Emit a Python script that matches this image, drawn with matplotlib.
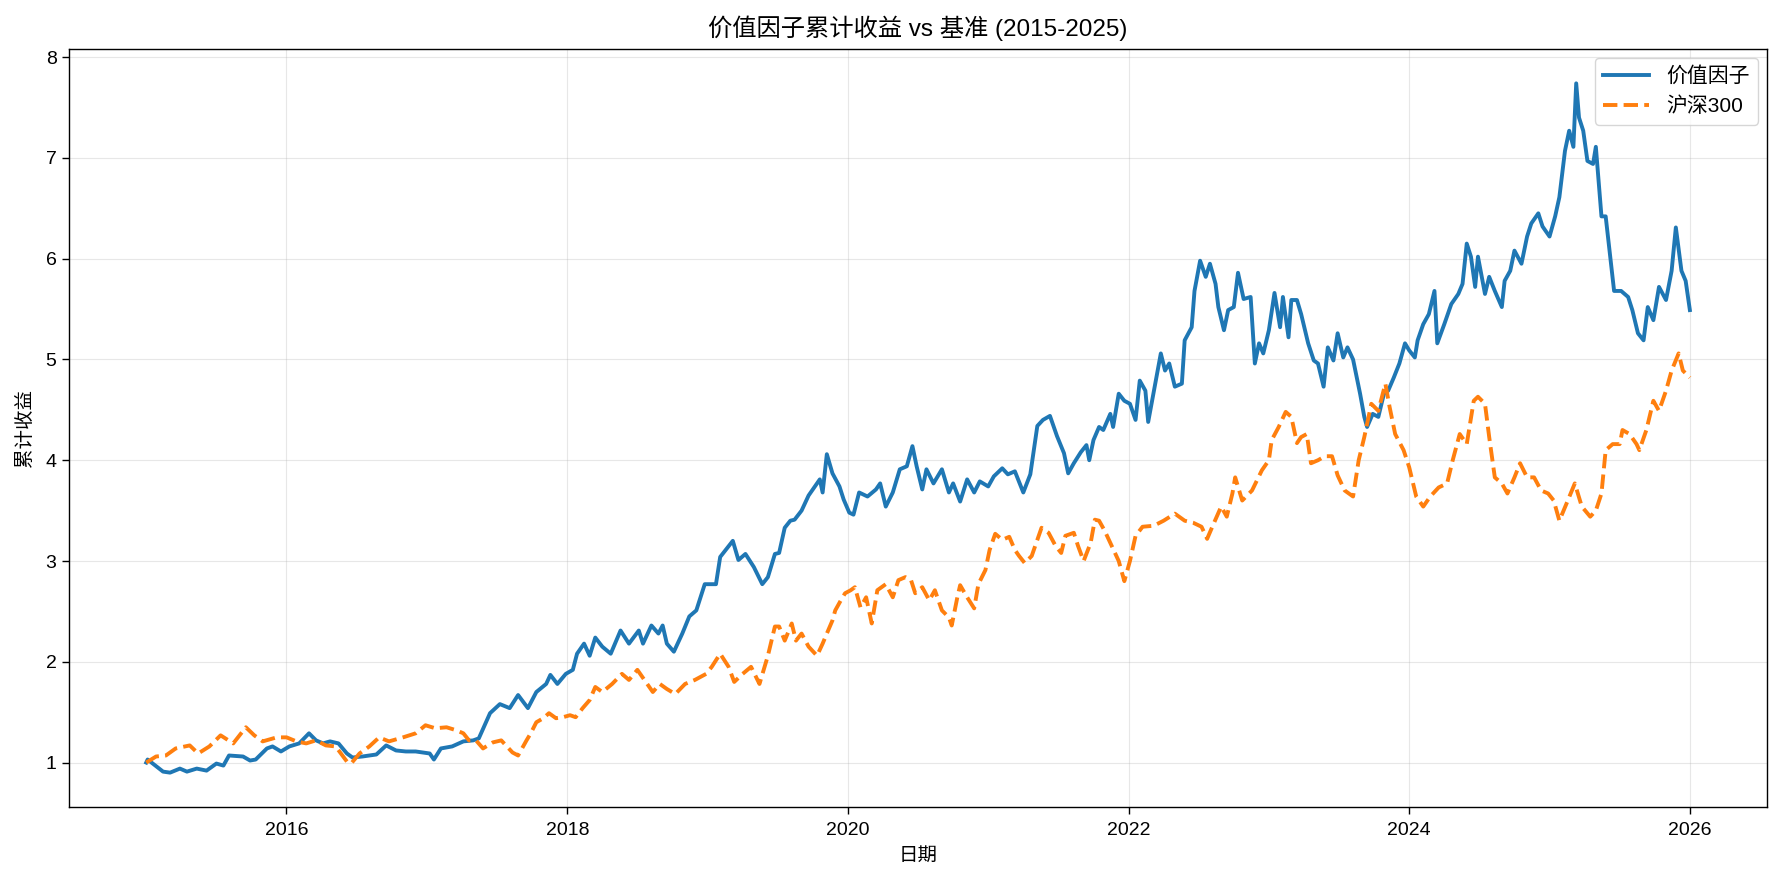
import numpy as np
import pandas as pd
import matplotlib
matplotlib.use('Agg')
import matplotlib.pyplot as plt
import matplotlib.dates as mdates

plt.rcParams['font.family'] = ['Liberation Sans', 'Noto Sans CJK SC']
plt.rcParams['axes.unicode_minus'] = False

# 价值因子 cumulative return (fractional year, value)
value_t = [2015.00, 2015.01, 2015.12, 2015.17, 2015.24, 2015.29, 2015.36, 2015.43, 2015.50, 2015.55,
           2015.59, 2015.69, 2015.74, 2015.78, 2015.86, 2015.90, 2015.96, 2016.02, 2016.09, 2016.16,
           2016.21, 2016.26, 2016.31, 2016.37, 2016.43, 2016.47, 2016.54, 2016.64, 2016.71, 2016.78,
           2016.85, 2016.92, 2017.02, 2017.05, 2017.10, 2017.18, 2017.26, 2017.33, 2017.37, 2017.45,
           2017.52, 2017.59, 2017.65, 2017.72, 2017.78, 2017.85, 2017.88, 2017.93, 2017.99, 2018.04,
           2018.07, 2018.12, 2018.16, 2018.20, 2018.25, 2018.31, 2018.38, 2018.44, 2018.51, 2018.54,
           2018.60, 2018.65, 2018.68, 2018.71, 2018.76, 2018.82, 2018.87, 2018.92, 2018.98, 2019.06,
           2019.09, 2019.18, 2019.22, 2019.27, 2019.33, 2019.39, 2019.43, 2019.48, 2019.51, 2019.55,
           2019.59, 2019.62, 2019.67, 2019.72, 2019.75, 2019.80, 2019.82, 2019.85, 2019.89, 2019.94,
           2019.97, 2020.01, 2020.04, 2020.08, 2020.14, 2020.20, 2020.23, 2020.27, 2020.32, 2020.37,
           2020.42, 2020.46, 2020.49, 2020.53, 2020.56, 2020.61, 2020.67, 2020.72, 2020.75, 2020.80,
           2020.85, 2020.90, 2020.94, 2021.00, 2021.04, 2021.10, 2021.14, 2021.19, 2021.25, 2021.30,
           2021.35, 2021.39, 2021.44, 2021.49, 2021.54, 2021.57, 2021.61, 2021.66, 2021.70, 2021.72,
           2021.75, 2021.79, 2021.82, 2021.87, 2021.89, 2021.93, 2021.97, 2022.01, 2022.05, 2022.08,
           2022.12, 2022.14, 2022.19, 2022.23, 2022.26, 2022.29, 2022.33, 2022.38, 2022.40, 2022.45,
           2022.47, 2022.51, 2022.55, 2022.58, 2022.62, 2022.64, 2022.68, 2022.71, 2022.75, 2022.78,
           2022.82, 2022.87, 2022.90, 2022.93, 2022.96, 2023.00, 2023.04, 2023.08, 2023.10, 2023.14,
           2023.16, 2023.20, 2023.23, 2023.28, 2023.32, 2023.35, 2023.39, 2023.42, 2023.46, 2023.49,
           2023.53, 2023.56, 2023.60, 2023.65, 2023.68, 2023.70, 2023.74, 2023.78, 2023.82, 2023.85,
           2023.89, 2023.93, 2023.97, 2024.00, 2024.04, 2024.06, 2024.10, 2024.14, 2024.18, 2024.20,
           2024.25, 2024.30, 2024.35, 2024.38, 2024.41, 2024.44, 2024.47, 2024.49, 2024.54, 2024.57,
           2024.61, 2024.66, 2024.68, 2024.72, 2024.75, 2024.80, 2024.84, 2024.87, 2024.92, 2024.95,
           2025.00, 2025.04, 2025.07, 2025.11, 2025.14, 2025.17, 2025.19, 2025.21, 2025.24, 2025.27,
           2025.31, 2025.33, 2025.37, 2025.40, 2025.43, 2025.46, 2025.51, 2025.56, 2025.59, 2025.63,
           2025.67, 2025.70, 2025.74, 2025.78, 2025.83, 2025.87, 2025.90, 2025.94, 2025.97, 2026.00]
value_v = [1.00, 1.03, 0.91, 0.90, 0.94, 0.91, 0.94, 0.92, 0.99, 0.97,
           1.07, 1.06, 1.02, 1.03, 1.14, 1.16, 1.11, 1.16, 1.19, 1.29,
           1.22, 1.19, 1.21, 1.19, 1.09, 1.05, 1.06, 1.08, 1.17, 1.12,
           1.11, 1.11, 1.09, 1.03, 1.14, 1.16, 1.21, 1.22, 1.24, 1.49,
           1.58, 1.54, 1.67, 1.54, 1.70, 1.78, 1.87, 1.78, 1.88, 1.92,
           2.08, 2.18, 2.06, 2.24, 2.15, 2.08, 2.31, 2.18, 2.31, 2.18,
           2.36, 2.28, 2.36, 2.18, 2.10, 2.28, 2.45, 2.51, 2.77, 2.77,
           3.04, 3.20, 3.01, 3.07, 2.94, 2.77, 2.84, 3.07, 3.08, 3.33,
           3.40, 3.41, 3.50, 3.65, 3.71, 3.81, 3.68, 4.06, 3.87, 3.74,
           3.61, 3.48, 3.46, 3.68, 3.64, 3.71, 3.77, 3.54, 3.68, 3.91,
           3.94, 4.14, 3.94, 3.71, 3.91, 3.77, 3.91, 3.68, 3.77, 3.59,
           3.81, 3.68, 3.79, 3.74, 3.84, 3.92, 3.86, 3.89, 3.68, 3.86,
           4.34, 4.40, 4.44, 4.24, 4.07, 3.87, 3.97, 4.08, 4.15, 4.00,
           4.20, 4.33, 4.30, 4.46, 4.33, 4.66, 4.59, 4.56, 4.40, 4.79,
           4.69, 4.38, 4.76, 5.06, 4.89, 4.96, 4.73, 4.76, 5.19, 5.32,
           5.68, 5.98, 5.82, 5.95, 5.75, 5.52, 5.29, 5.49, 5.52, 5.86,
           5.60, 5.62, 4.96, 5.16, 5.06, 5.29, 5.66, 5.32, 5.62, 5.22,
           5.59, 5.59, 5.45, 5.16, 4.99, 4.96, 4.73, 5.12, 4.99, 5.26,
           5.02, 5.12, 5.00, 4.66, 4.43, 4.33, 4.46, 4.43, 4.66, 4.69,
           4.82, 4.96, 5.16, 5.09, 5.02, 5.19, 5.35, 5.45, 5.68, 5.16,
           5.35, 5.55, 5.65, 5.75, 6.15, 6.02, 5.72, 6.02, 5.65, 5.82,
           5.68, 5.52, 5.78, 5.88, 6.08, 5.95, 6.22, 6.35, 6.45, 6.32,
           6.22, 6.42, 6.61, 7.07, 7.27, 7.11, 7.74, 7.40, 7.27, 6.97,
           6.94, 7.11, 6.42, 6.42, 6.05, 5.68, 5.68, 5.62, 5.49, 5.26,
           5.19, 5.52, 5.39, 5.72, 5.59, 5.88, 6.31, 5.88, 5.78, 5.49]

# 沪深300 cumulative return
hs300_t = [2015.00, 2015.07, 2015.14, 2015.21, 2015.31, 2015.37, 2015.45, 2015.53, 2015.62, 2015.71,
           2015.77, 2015.83, 2015.93, 2016.00, 2016.07, 2016.14, 2016.21, 2016.28, 2016.35, 2016.43,
           2016.46, 2016.52, 2016.59, 2016.66, 2016.73, 2016.83, 2016.92, 2016.99, 2017.06, 2017.14,
           2017.21, 2017.26, 2017.30, 2017.35, 2017.40, 2017.47, 2017.53, 2017.57, 2017.61, 2017.65,
           2017.67, 2017.71, 2017.74, 2017.78, 2017.83, 2017.87, 2017.92, 2017.97, 2018.02, 2018.06,
           2018.11, 2018.16, 2018.20, 2018.25, 2018.32, 2018.39, 2018.44, 2018.50, 2018.55, 2018.61,
           2018.66, 2018.71, 2018.77, 2018.84, 2018.91, 2018.99, 2019.03, 2019.09, 2019.15, 2019.19,
           2019.25, 2019.31, 2019.37, 2019.43, 2019.48, 2019.51, 2019.55, 2019.60, 2019.63, 2019.67,
           2019.72, 2019.78, 2019.82, 2019.85, 2019.89, 2019.91, 2019.95, 2019.98, 2020.02, 2020.05,
           2020.09, 2020.13, 2020.17, 2020.21, 2020.27, 2020.32, 2020.36, 2020.41, 2020.45, 2020.48,
           2020.53, 2020.58, 2020.62, 2020.67, 2020.72, 2020.74, 2020.78, 2020.80, 2020.85, 2020.90,
           2020.93, 2020.98, 2021.01, 2021.05, 2021.10, 2021.15, 2021.19, 2021.22, 2021.26, 2021.31,
           2021.38, 2021.43, 2021.48, 2021.52, 2021.55, 2021.61, 2021.64, 2021.68, 2021.73, 2021.76,
           2021.79, 2021.83, 2021.88, 2021.93, 2021.97, 2022.01, 2022.05, 2022.10, 2022.18, 2022.25,
           2022.33, 2022.40, 2022.46, 2022.52, 2022.56, 2022.60, 2022.66, 2022.70, 2022.74, 2022.76,
           2022.81, 2022.88, 2022.95, 2023.00, 2023.02, 2023.07, 2023.12, 2023.16, 2023.20, 2023.23,
           2023.27, 2023.30, 2023.35, 2023.40, 2023.45, 2023.49, 2023.54, 2023.57, 2023.60, 2023.64,
           2023.68, 2023.73, 2023.78, 2023.83, 2023.86, 2023.90, 2023.96, 2024.00, 2024.05, 2024.10,
           2024.15, 2024.21, 2024.27, 2024.31, 2024.36, 2024.41, 2024.46, 2024.49, 2024.54, 2024.57,
           2024.61, 2024.66, 2024.70, 2024.75, 2024.79, 2024.84, 2024.89, 2024.94, 2024.99, 2025.03,
           2025.07, 2025.13, 2025.18, 2025.23, 2025.29, 2025.33, 2025.37, 2025.40, 2025.45, 2025.50,
           2025.52, 2025.57, 2025.62, 2025.64, 2025.69, 2025.74, 2025.78, 2025.83, 2025.87, 2025.92,
           2025.95, 2026.00]
hs300_v = [1.00, 1.06, 1.07, 1.14, 1.17, 1.09, 1.16, 1.27, 1.19, 1.35,
           1.27, 1.21, 1.25, 1.25, 1.21, 1.19, 1.22, 1.17, 1.16, 1.01,
           0.99, 1.09, 1.16, 1.25, 1.21, 1.25, 1.29, 1.37, 1.34, 1.35,
           1.32, 1.29, 1.22, 1.22, 1.14, 1.20, 1.22, 1.16, 1.10, 1.07,
           1.12, 1.22, 1.29, 1.40, 1.44, 1.49, 1.44, 1.45, 1.47, 1.45,
           1.54, 1.62, 1.75, 1.70, 1.78, 1.88, 1.82, 1.92, 1.82, 1.70,
           1.78, 1.73, 1.68, 1.78, 1.82, 1.88, 1.95, 2.08, 1.95, 1.80,
           1.88, 1.95, 1.78, 2.06, 2.35, 2.35, 2.21, 2.38, 2.21, 2.28,
           2.15, 2.06, 2.18, 2.28, 2.41, 2.51, 2.61, 2.68, 2.71, 2.74,
           2.54, 2.64, 2.38, 2.71, 2.77, 2.64, 2.81, 2.84, 2.81, 2.68,
           2.74, 2.61, 2.71, 2.51, 2.44, 2.36, 2.64, 2.76, 2.64, 2.53,
           2.77, 2.91, 3.11, 3.27, 3.21, 3.24, 3.11, 3.05, 2.98, 3.05,
           3.33, 3.28, 3.15, 3.08, 3.25, 3.28, 3.15, 3.00, 3.18, 3.41,
           3.40, 3.30, 3.15, 3.00, 2.80, 3.00, 3.25, 3.34, 3.35, 3.40,
           3.47, 3.40, 3.38, 3.34, 3.22, 3.35, 3.54, 3.44, 3.67, 3.83,
           3.60, 3.70, 3.90, 4.00, 4.20, 4.33, 4.48, 4.43, 4.17, 4.23,
           4.26, 3.97, 4.00, 4.04, 4.04, 3.85, 3.70, 3.67, 3.64, 4.00,
           4.23, 4.56, 4.49, 4.76, 4.53, 4.26, 4.10, 3.93, 3.64, 3.54,
           3.64, 3.73, 3.77, 4.00, 4.26, 4.16, 4.59, 4.63, 4.56, 4.23,
           3.83, 3.77, 3.67, 3.83, 3.97, 3.83, 3.83, 3.70, 3.67, 3.60,
           3.40, 3.60, 3.77, 3.54, 3.44, 3.50, 3.67, 4.10, 4.16, 4.16,
           4.30, 4.26, 4.16, 4.10, 4.30, 4.59, 4.49, 4.69, 4.89, 5.06,
           4.89, 4.82]


def to_dates(years):
    years = np.asarray(years)
    return pd.Timestamp('2015-01-01') + pd.to_timedelta((years - 2015) * 365.25, unit='D')


fig, ax = plt.subplots(figsize=(17.84, 8.84), dpi=100)
fig.subplots_adjust(left=0.0387, right=0.9905, top=0.9447, bottom=0.087)

ax.plot(to_dates(value_t), value_v, color='#1f77b4', lw=2.8, label='价值因子')
ax.plot(to_dates(hs300_t), hs300_v, color='#ff7f0e', lw=2.8, ls='--', label='沪深300')

ax.xaxis.set_major_locator(mdates.YearLocator(2))
ax.xaxis.set_major_formatter(mdates.DateFormatter('%Y'))
ax.tick_params(labelsize=14, length=5, width=1)
ax.tick_params(axis='x', pad=6)
ax.tick_params(axis='y', pad=4)
for s in ax.spines.values():
    s.set_linewidth(1.0)

ax.set_title('价值因子累计收益 vs 基准 (2015-2025)', fontsize=17.5, pad=9)
ax.set_xlabel('日期', fontsize=14, labelpad=6)
ax.set_ylabel('累计收益', fontsize=14, labelpad=8)
ax.legend(loc='upper right', fontsize=15, handlelength=2.2, borderaxespad=0.45)
ax.grid(True, alpha=0.3)

fig.savefig('out.png', dpi=100)
